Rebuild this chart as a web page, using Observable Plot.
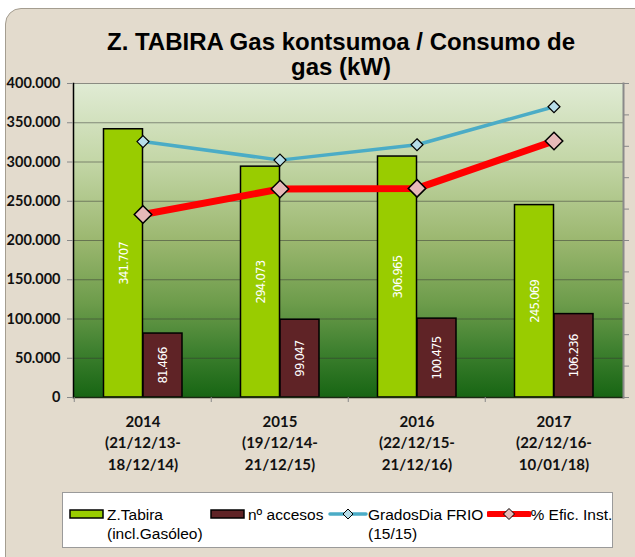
<!DOCTYPE html>
<html>
<head>
<meta charset="utf-8">
<script src="https://cdn.jsdelivr.net/npm/d3@7"></script>
<script src="https://cdn.jsdelivr.net/npm/@observablehq/plot@0.6"></script>
<style>
  body { margin:0; background:#fff; }
  #page { position:relative; width:635px; height:557px; overflow:hidden; font-family:"Liberation Sans", Arial, sans-serif; }
  #panel { position:absolute; left:5px; top:8px; width:680px; height:600px; border-radius:16px;
           background:#e3dbcd; border:1px solid #a49d90; box-sizing:border-box; }
  #title { position:absolute; left:0; top:28.5px; width:682px; text-align:center; font-weight:bold;
           font-size:24px; line-height:25px; color:#000; }
  #chart { position:absolute; left:0; top:0; }
  #legend { position:absolute; left:62px; top:492px; width:551px; height:56px; background:#fff;
            border:1px solid #9a9a9a; box-sizing:border-box; }
  .lg { position:absolute; font-size:15.5px; line-height:19px; color:#000; white-space:pre; }
  .sw { position:absolute; }
  .vlab text { letter-spacing:-0.8px; }
</style>
</head>
<body>
<div id="page">
  <div id="panel"></div>
  <div id="title">Z. TABIRA Gas kontsumoa / Consumo de<br>gas (kW)</div>
  <div id="chart"></div>
  <div id="legend"></div>
</div>
<script>
// ---- data ----
const years = ["2014", "2015", "2016", "2017"];
const periods = ["(21/12/13-\n18/12/14)", "(19/12/14-\n21/12/15)", "(22/12/15-\n21/12/16)", "(22/12/16-\n10/01/18)"];
const tabira = [341707, 294073, 306965, 245069];      // Z.Tabira (incl.Gasóleo)
const accesos = [81466, 99047, 100475, 106236];       // nº accesos
// secondary (unlabelled) axis, read as 0–100 scale
const gradosDia = [81.5, 75.6, 80.5, 92.6];           // GradosDia FRIO (15/15)
const eficInst = [58.3, 66.4, 66.6, 81.7];            // % Efic. Inst.
const yTicks = [0, 50000, 100000, 150000, 200000, 250000, 300000, 350000, 400000];
const seriesNames = ["Z.Tabira\n(incl.Gasóleo)", "nº accesos", "GradosDia FRIO\n(15/15)", "% Efic. Inst."];

const secondaryMax = 100;
const primaryMax = 400000;
const k = primaryMax / secondaryMax;

const rows = years.map((y, i) => ({year: y, period: periods[i], tabira: tabira[i], accesos: accesos[i], grados: gradosDia[i], efic: eficInst[i]}));
const periodOf = Object.fromEntries(years.map((y, i) => [y, periods[i]]));

const loc = d3.formatLocale({decimal: ",", thousands: ".", grouping: [3], currency: ["", "€"]});
const fmt = loc.format(",d");

const cGreen = "#99cc00", cBrown = "#5f2326", cBlue = "#4bacc6", cRed = "#ff0000";
const cBlueM = "#b7dde8", cRedM = "#e6b9b8";

const defs = () => {
  const d = d3.create("svg:defs");
  const g = d.append("linearGradient").attr("id", "bg").attr("x1", 0).attr("y1", 0).attr("x2", 0).attr("y2", 1);
  [[0, "#e0ebd4"], [0.25, "#c3d6a6"], [0.5, "#9bb76f"], [0.7, "#6d9c4b"], [0.85, "#3e802f"], [1, "#176513"]]
    .forEach(([o, c]) => g.append("stop").attr("offset", o).attr("stop-color", c));
  return d.node();
};

const labelFont = "'Liberation Sans Narrow', 'DejaVu Sans Condensed', sans-serif";
const axisFont = "Lato, 'Open Sans', sans-serif";

const chart = Plot.plot({
  width: 635, height: 480,
  marginTop: 83, marginBottom: 83, marginLeft: 73, marginRight: 12,
  style: {background: "transparent", overflow: "visible"},
  x: {type: "band", domain: years, padding: 0, axis: null},
  y: {domain: [0, primaryMax], axis: null},
  marks: [
    defs,
    Plot.frame({fill: "url(#bg)", stroke: null}),
    Plot.gridY(yTicks, {stroke: "#333", strokeOpacity: 0.5}),
    Plot.barY(rows, {x: "year", y: "tabira", fill: cGreen, stroke: "#000", strokeWidth: 1.5, insetLeft: 29.5, insetRight: 68.5}),
    Plot.barY(rows, {x: "year", y: "accesos", fill: cBrown, stroke: "#000", strokeWidth: 1.5, insetLeft: 69, insetRight: 29}),
    Plot.text(rows, {x: "year", y: d => d.tabira / 2, text: d => fmt(d.tabira), rotate: -90, dx: -19.5, fill: "#fff", fontSize: 13, fontFamily: labelFont, className: "vlab"}),
    Plot.text(rows, {x: "year", y: d => d.accesos / 2, text: d => fmt(d.accesos), rotate: -90, dx: 20, fill: "#fff", fontSize: 13, fontFamily: labelFont, className: "vlab"}),
    Plot.line(rows, {x: "year", y: d => d.grados * k, stroke: cBlue, strokeWidth: 3.5}),
    Plot.dot(rows, {x: "year", y: d => d.grados * k, symbol: "diamond2", r: 5.4, fill: cBlueM, stroke: "#000", strokeWidth: 1.2}),
    Plot.line(rows, {x: "year", y: d => d.efic * k, stroke: cRed, strokeWidth: 7}),
    Plot.dot(rows, {x: "year", y: d => d.efic * k, symbol: "diamond2", r: 7.9, fill: cRedM, stroke: "#000", strokeWidth: 1.5}),
    Plot.frame({anchor: "left", stroke: "#000", strokeWidth: 1.5}),
    Plot.frame({anchor: "bottom", stroke: "#1b2a12", strokeWidth: 1.5}),
    Plot.frame({anchor: "right", stroke: "#8a8a8a", strokeWidth: 2}),
    Plot.axisY({ticks: yTicks, tickSize: 6, text: null, stroke: "#888", label: null}),
    Plot.axisY({ticks: yTicks, tickSize: 0, tickPadding: 13, tickFormat: fmt, fontWeight: "bold", fontSize: 14.5, fontFamily: axisFont, fill: "#111", label: null}),
    Plot.axisY({anchor: "right", ticks: d3.range(0, primaryMax + 1, primaryMax / 10), tickSize: 5, text: null, stroke: "#888", label: null}),
    Plot.axisX({tickSize: 5, text: null, stroke: "#888", dx: -68.75, label: null}),
    Plot.axisX({tickSize: 0, tickPadding: 14, tickFormat: d => d + "\n" + periodOf[d], fontWeight: "bold", fontSize: 15, lineHeight: 1.43, fontFamily: axisFont, fill: "#111", label: null})
  ]
});
document.getElementById("chart").appendChild(chart);

// ---- legend ----
const legend = document.getElementById("legend");
const L = 62, T = 492;
const items = [
  {kind: "bar", color: cGreen, sx: 69, sw: 33, tx: 106},
  {kind: "bar", color: cBrown, sx: 210, sw: 33, tx: 247},
  {kind: "line", color: cBlue, m: cBlueM, sx: 329, sw: 36, tx: 367, lw: 3.5, r: 5},
  {kind: "line", color: cRed, m: cRedM, sx: 488, sw: 40, tx: 529.5, lw: 6, r: 5.5}
];
items.forEach((it, i) => {
  const svg = d3.create("svg").attr("class", "sw").attr("width", it.sw + 4).attr("height", 16)
    .style("left", (it.sx - L - 2) + "px").style("top", (513 - 8 - T) + "px");
  if (it.kind === "bar") {
    svg.append("rect").attr("x", 2).attr("y", 4).attr("width", it.sw).attr("height", 8)
      .attr("fill", it.color).attr("stroke", "#000").attr("stroke-width", 1.5);
  } else {
    svg.append("line").attr("x1", 2).attr("x2", it.sw + 2).attr("y1", 8).attr("y2", 8)
      .attr("stroke", it.color).attr("stroke-width", it.lw).attr("stroke-linecap", "round");
    const c = it.sw / 2 + 2, r = it.r;
    svg.append("path").attr("d", `M${c},${8 - r}L${c + r},8L${c},${8 + r}L${c - r},8Z`)
      .attr("fill", it.m).attr("stroke", "#000").attr("stroke-width", 1);
  }
  legend.appendChild(svg.node());
  const t = document.createElement("div");
  t.className = "lg";
  t.textContent = seriesNames[i];
  t.style.left = (it.tx - L) + "px";
  t.style.top = (513 - 9.5 - T) + "px";
  legend.appendChild(t);
});
</script>
</body>
</html>
